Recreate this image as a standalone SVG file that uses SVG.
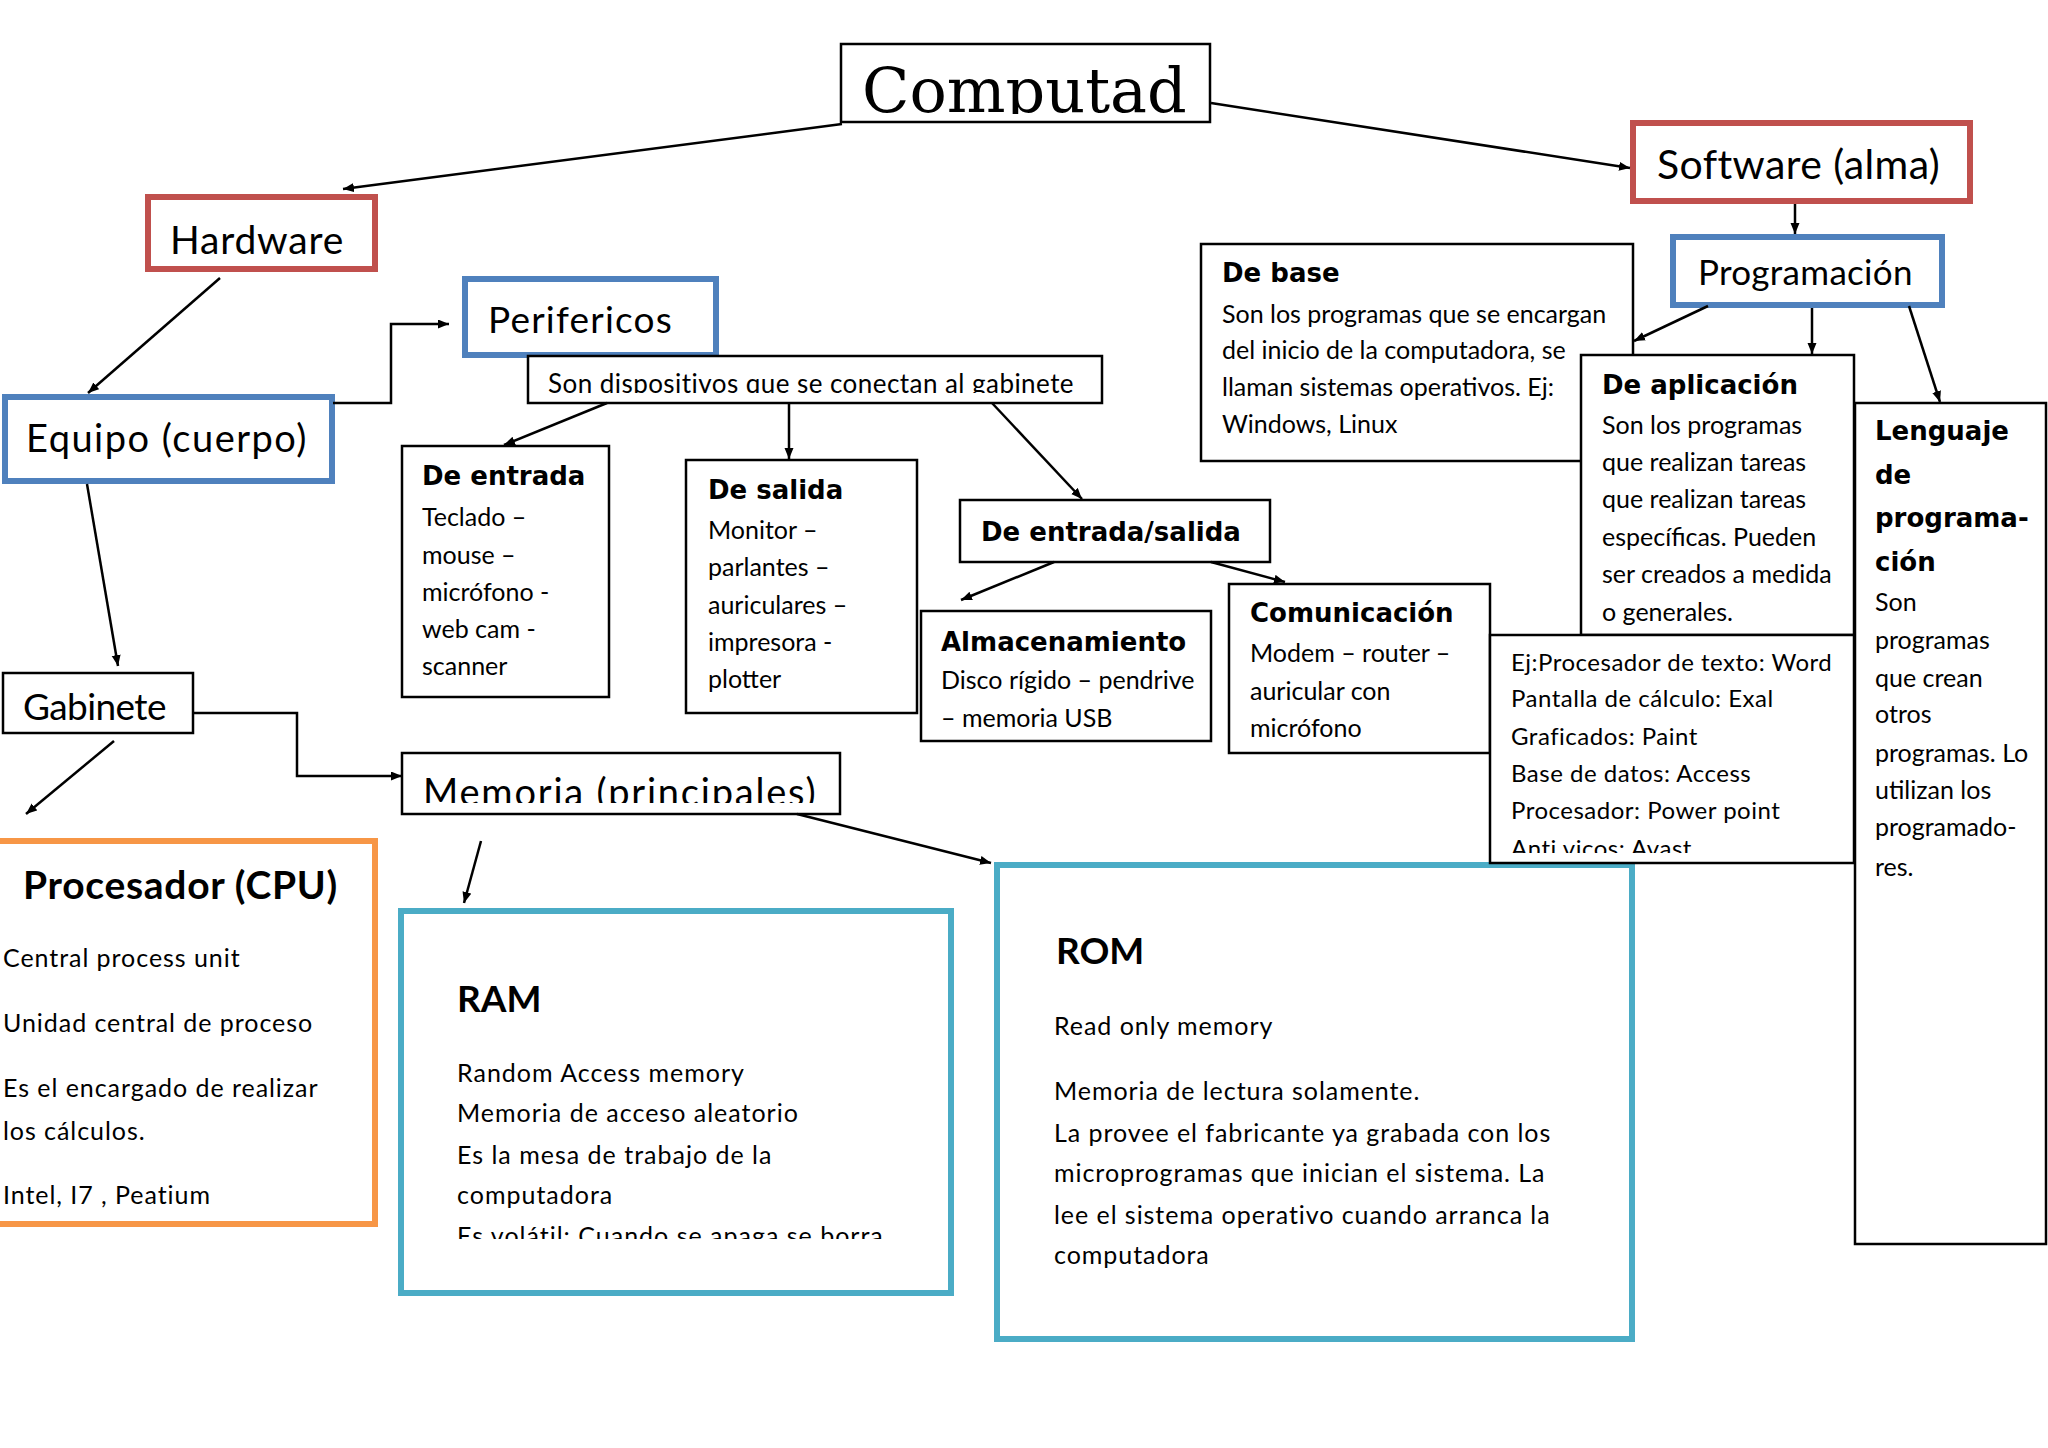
<svg xmlns="http://www.w3.org/2000/svg" width="2048" height="1448" viewBox="0 0 2048 1448">
<defs>
<style>
.t{font-family:Lato,"Open Sans",sans-serif;fill:#000}
.b{font-family:Lato,"Open Sans",sans-serif;font-weight:bold;fill:#000}
.h{font-family:"DejaVu Sans",sans-serif;font-weight:bold;font-size:26px;fill:#000}
.box{fill:#fff;stroke:#000;stroke-width:2.5}
.red{fill:#fff;stroke:#C0504D;stroke-width:6}
.blue{fill:#fff;stroke:#4F81BD;stroke-width:6}
.org{fill:#fff;stroke:#F79646;stroke-width:6}
.teal{fill:#fff;stroke:#4BACC6;stroke-width:6}
.c{fill:none;stroke:#000;stroke-width:2.5;marker-end:url(#arr)}
.s25{font-size:25px}
.s24{font-size:24px}
.w{letter-spacing:0.95px}
</style>
<marker id="arr" markerWidth="12" markerHeight="10" refX="11" refY="4.5" orient="auto" markerUnits="userSpaceOnUse"><path d="M0,0 L11,4.5 L0,9 z" fill="#000"/></marker>
<clipPath id="cpComp"><rect x="841" y="44" width="369" height="70"/></clipPath>
<clipPath id="cpSon"><rect x="528" y="356" width="574" height="37"/></clipPath>
<clipPath id="cpMem"><rect x="402" y="753" width="438" height="50"/></clipPath>
<clipPath id="cpEj"><rect x="1490" y="635" width="364" height="218"/></clipPath>
<clipPath id="cpRam"><rect x="401" y="911" width="550" height="328"/></clipPath>
</defs>
<rect width="2048" height="1448" fill="#fff"/>

<g id="computad">
<rect class="box" x="841" y="44" width="369" height="78"/>
<text x="862" y="112" clip-path="url(#cpComp)" style="font-family:'DejaVu Serif',serif;font-size:62px">Computad</text>
</g>

<g id="hardware">
<rect class="red" x="148" y="197" width="227" height="72"/>
<text class="t" x="170" y="254" font-size="39" letter-spacing="0.8">Hardware</text>
</g>

<g id="software">
<rect class="red" x="1633" y="123" width="337" height="78"/>
<text class="t" x="1657" y="179" font-size="41" letter-spacing="0.4">Software (alma)</text>
</g>

<g id="programacion">
<rect class="blue" x="1673" y="237" width="269" height="68"/>
<text class="t" x="1698" y="285" font-size="35" letter-spacing="0.3">Programación</text>
</g>

<g id="equipo">
<rect class="blue" x="5" y="397" width="327" height="84"/>
<text class="t" x="26" y="452" font-size="38" letter-spacing="1.5">Equipo (cuerpo)</text>
</g>

<g id="perifericos">
<rect class="blue" x="465" y="279" width="251" height="76"/>
<text class="t" x="488" y="333" font-size="37" letter-spacing="1.2">Perifericos</text>
</g>

<g id="son-dispositivos">
<rect class="box" x="528" y="356" width="574" height="47"/>
<text class="t" x="548" y="393" font-size="26" letter-spacing="0.45" clip-path="url(#cpSon)">Son dispositivos que se conectan al gabinete</text>
</g>

<g id="de-entrada">
<rect class="box" x="402" y="446" width="207" height="251"/>
<text class="h" x="422" y="485">De entrada</text>
<text class="t s25" x="422" y="526">Teclado –</text>
<text class="t s25" x="422" y="564">mouse –</text>
<text class="t s25" x="422" y="601">micrófono -</text>
<text class="t s25" x="422" y="638">web cam -</text>
<text class="t s25" x="422" y="675">scanner</text>
</g>

<g id="de-salida">
<rect class="box" x="686" y="460" width="231" height="253"/>
<text class="h" x="708" y="499">De salida</text>
<text class="t s25" x="708" y="539">Monitor –</text>
<text class="t s25" x="708" y="576">parlantes –</text>
<text class="t s25" x="708" y="614">auriculares –</text>
<text class="t s25" x="708" y="651">impresora -</text>
<text class="t s25" x="708" y="688">plotter</text>
</g>

<g id="de-entrada-salida">
<rect class="box" x="960" y="500" width="310" height="62"/>
<text class="h" x="981" y="541">De entrada/salida</text>
</g>

<g id="almacenamiento">
<rect class="box" x="921" y="611" width="290" height="130"/>
<text class="h" x="941" y="651">Almacenamiento</text>
<text class="t s25" x="941" y="689">Disco rígido – pendrive</text>
<text class="t s25" x="941" y="727">– memoria USB</text>
</g>

<g id="comunicacion">
<rect class="box" x="1229" y="584" width="261" height="169"/>
<text class="h" x="1250" y="622">Comunicación</text>
<text class="t s25" x="1250" y="662">Modem – router –</text>
<text class="t s25" x="1250" y="700">auricular con</text>
<text class="t s25" x="1250" y="737">micrófono</text>
</g>

<g id="de-base">
<rect class="box" x="1201" y="244" width="432" height="217"/>
<text class="h" x="1222" y="282">De base</text>
<text class="t s25" x="1222" y="323">Son los programas que se encargan</text>
<text class="t s25" x="1222" y="359">del inicio de la computadora, se</text>
<text class="t s25" x="1222" y="396">llaman sistemas operativos. Ej:</text>
<text class="t s25" x="1222" y="433">Windows, Linux</text>
</g>

<g id="de-aplicacion">
<rect class="box" x="1581" y="355" width="273" height="280"/>
<text class="h" x="1602" y="394">De aplicación</text>
<text class="t s25" x="1602" y="434">Son los programas</text>
<text class="t s25" x="1602" y="471">que realizan tareas</text>
<text class="t s25" x="1602" y="508">que realizan tareas</text>
<text class="t s25" x="1602" y="546">específicas. Pueden</text>
<text class="t s25" x="1602" y="583">ser creados a medida</text>
<text class="t s25" x="1602" y="621">o generales.</text>
</g>

<g id="rom">
<rect class="teal" x="997" y="865" width="635" height="474"/>
<text class="b" x="1056" y="964" font-size="37">ROM</text>
<text class="t s25 w" x="1054" y="1035">Read only memory</text>
<text class="t s25 w" x="1054" y="1100">Memoria de lectura solamente.</text>
<text class="t s25 w" x="1054" y="1142">La provee el fabricante ya grabada con los</text>
<text class="t s25 w" x="1054" y="1182">microprogramas que inician el sistema. La</text>
<text class="t s25 w" x="1054" y="1224">lee el sistema operativo cuando arranca la</text>
<text class="t s25 w" x="1054" y="1264">computadora</text>
</g>

<g id="ejemplos">
<rect class="box" x="1490" y="635" width="364" height="228"/>
<g clip-path="url(#cpEj)">
<text class="t s24" x="1511" y="671" letter-spacing="0.5">Ej:Procesador de texto: Word</text>
<text class="t s24" x="1511" y="707" letter-spacing="0.5">Pantalla de cálculo: Exal</text>
<text class="t s24" x="1511" y="745" letter-spacing="0.5">Graficados: Paint</text>
<text class="t s24" x="1511" y="782" letter-spacing="0.5">Base de datos: Access</text>
<text class="t s24" x="1511" y="819" letter-spacing="0.5">Procesador: Power point</text>
<text class="t s24" x="1511" y="857" letter-spacing="0.5">Anti vicos: Avast</text>
</g>
</g>

<g id="lenguaje">
<rect class="box" x="1855" y="403" width="191" height="841"/>
<text class="h" x="1875" y="440">Lenguaje</text>
<text class="h" x="1875" y="484">de</text>
<text class="h" x="1875" y="527">programa-</text>
<text class="h" x="1875" y="571">ción</text>
<text class="t s25" x="1875" y="611">Son</text>
<text class="t s25" x="1875" y="649">programas</text>
<text class="t s25" x="1875" y="687">que crean</text>
<text class="t s25" x="1875" y="723">otros</text>
<text class="t s25" x="1875" y="762">programas. Lo</text>
<text class="t s25" x="1875" y="799">utilizan los</text>
<text class="t s25" x="1875" y="836">programado-</text>
<text class="t s25" x="1875" y="876">res.</text>
</g>

<g id="gabinete">
<rect class="box" x="3" y="673" width="190" height="60"/>
<text class="t" x="23" y="720" font-size="37" letter-spacing="-0.6">Gabinete</text>
</g>

<g id="memoria">
<rect class="box" x="402" y="753" width="438" height="61"/>
<text class="t" x="423" y="806" font-size="38" letter-spacing="1.8" clip-path="url(#cpMem)">Memoria (principales)</text>
</g>

<g id="cpu">
<rect class="org" x="-10" y="841" width="385" height="383"/>
<text class="b" x="23" y="899" font-size="39" letter-spacing="0.7">Procesador (CPU)</text>
<text class="t s25 w" x="3" y="967">Central process unit</text>
<text class="t s25 w" x="3" y="1032">Unidad central de proceso</text>
<text class="t s25 w" x="3" y="1097">Es el encargado de realizar</text>
<text class="t s25 w" x="3" y="1140">los cálculos.</text>
<text class="t s25 w" x="3" y="1204">Intel, I7 , Peatium</text>
</g>

<g id="ram">
<rect class="teal" x="401" y="911" width="550" height="382"/>
<text class="b" x="457" y="1012" font-size="37">RAM</text>
<text class="t s25" x="457" y="1082" letter-spacing="1">Random Access memory</text>
<text class="t s25" x="457" y="1122" letter-spacing="1">Memoria de acceso aleatorio</text>
<text class="t s25" x="457" y="1164" letter-spacing="1">Es la mesa de trabajo de la</text>
<text class="t s25" x="457" y="1204" letter-spacing="1">computadora</text>
<text class="t s25" x="457" y="1245" letter-spacing="1" clip-path="url(#cpRam)">Es volátil: Cuando se apaga se borra</text>
</g>

<g id="connectors">
<path class="c" d="M842,124 L343,189"/>
<path class="c" d="M1211,103 L1630,168"/>
<path class="c" d="M220,278 L88,393"/>
<path class="c" d="M333,403 H391 V324 H449"/>
<path class="c" d="M87,484 L118,666"/>
<path class="c" d="M114,741 L26,814"/>
<path class="c" d="M193,713 H297 V776 H402"/>
<path class="c" d="M607,403 L504,445"/>
<path class="c" d="M789,403 V459"/>
<path class="c" d="M992,403 L1082,499"/>
<path class="c" d="M1054,562 L961,600"/>
<path class="c" d="M1211,562 L1285,582"/>
<path class="c" d="M481,841 L464,903"/>
<path class="c" d="M797,814 L991,863"/>
<path class="c" d="M1795,204 V234"/>
<path class="c" d="M1708,306 L1634,341"/>
<path class="c" d="M1812,308 V354"/>
<path class="c" d="M1909,306 L1940,402"/>
</g>
</svg>
